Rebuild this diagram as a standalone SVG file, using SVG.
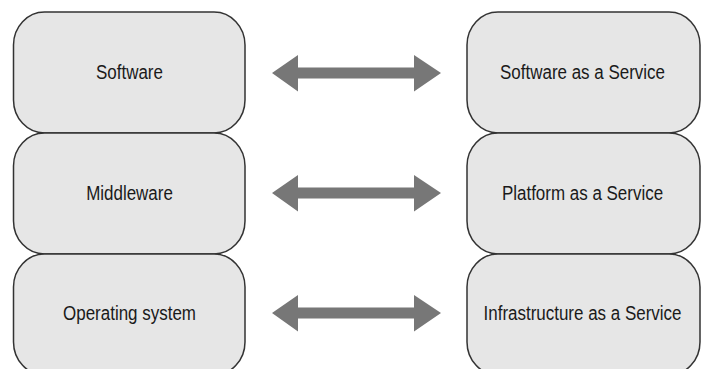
<svg xmlns="http://www.w3.org/2000/svg" width="702" height="369" viewBox="0 0 702 369">
<style>
.box{fill:#e6e6e6;stroke:#333;stroke-width:1.5}
.lbl{font-family:"Liberation Sans",Arial,sans-serif;font-size:19.5px;fill:#1a1a1a;text-anchor:middle}
.arr{fill:#777}
</style>
<rect width="702" height="369" fill="#fff"/>
<g id="software"><rect class="box" x="13.5" y="12" width="231.5" height="121" rx="31" ry="33"/><text class="lbl" transform="translate(129.5,79) scale(0.87,1)">Software</text></g>
<g id="middleware"><rect class="box" x="13.5" y="133" width="231.5" height="121" rx="31" ry="33"/><text class="lbl" transform="translate(129.5,200) scale(0.87,1)">Middleware</text></g>
<g id="os"><rect class="box" x="13.5" y="254" width="231.5" height="121" rx="31" ry="33"/><text class="lbl" transform="translate(129.5,320) scale(0.87,1)">Operating system</text></g>
<g id="saas"><rect class="box" x="467" y="12" width="233" height="121" rx="31" ry="33"/><text class="lbl" transform="translate(582.5,79) scale(0.87,1)">Software as a Service</text></g>
<g id="paas"><rect class="box" x="467" y="133" width="233" height="121" rx="31" ry="33"/><text class="lbl" transform="translate(582.5,200) scale(0.87,1)">Platform as a Service</text></g>
<g id="iaas"><rect class="box" x="467" y="254" width="233" height="121" rx="31" ry="33"/><text class="lbl" transform="translate(582.5,320) scale(0.87,1)">Infrastructure as a Service</text></g>
<g id="connectors">
<path class="arr" d="M272,73 L298,55 L298,67.5 L414,67.5 L414,55 L441,73 L414,91.5 L414,78.5 L298,78.5 L298,91.5 Z"/>
<path class="arr" d="M272,193 L298,175 L298,187.5 L414,187.5 L414,175 L441,193 L414,211.5 L414,198.5 L298,198.5 L298,211.5 Z"/>
<path class="arr" d="M272,313 L298,295 L298,307.5 L414,307.5 L414,295 L441,313 L414,331.5 L414,318.5 L298,318.5 L298,331.5 Z"/>
</g>
</svg>
